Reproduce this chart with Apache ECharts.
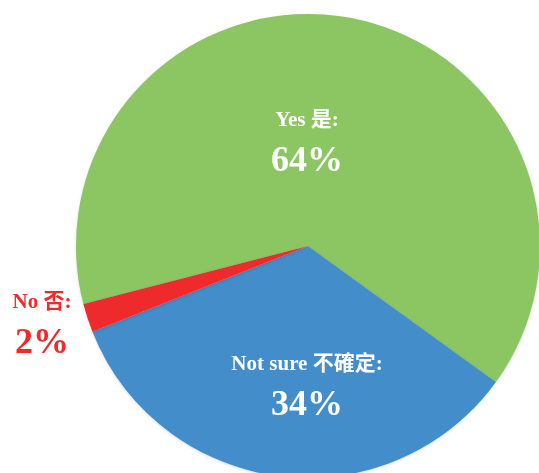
<!DOCTYPE html>
<html>
<head>
<meta charset="utf-8">
<script src="https://cdn.jsdelivr.net/npm/echarts@6/dist/echarts.min.js"></script>
<style>
html,body{margin:0;padding:0;background:#fff;}
#main{width:539px;height:473px;}
</style>
</head>
<body>
<div id="main"></div>
<script>
var names = ['Yes 是', 'Not sure 不確定', 'No 否'];
var values = [64, 34, 2];
var colors = ['#8BC662', '#438DCB', '#EE2A2C'];
var labelColors = ['#fff', '#fff', '#EE2A2C'];

//标签位置
var labelPos = [[307, 142], [307, 386], [42, 324]];

var data = [];
for (var i = 0; i < names.length; i++) {
    data.push({
        name: names[i],
        value: values[i],
        itemStyle: {color: colors[i]},
        label: {color: labelColors[i]}
    });
}

var myChart = echarts.init(document.getElementById('main'));
var option = {
    animation: false,
    series: [{
        type: 'pie',
        center: [308, 246],
        radius: [0, 232],
        startAngle: 194.5,
        clockwise: true,
        data: data,
        itemStyle: {
            shadowBlur: 3,
            shadowOffsetY: 1,
            shadowColor: 'rgba(0,0,0,0.15)'
        },
        emphasis: {disabled: true},
        labelLine: {show: false},
        label: {
            show: true,
            position: 'inside',
            formatter: '{a|{b}:}\n{p|{d}%}',
            fontFamily: '"Liberation Serif", "Noto Sans CJK TC", serif',
            fontWeight: 'bold',
            rich: {
                a: {
                    fontSize: 21,
                    fontWeight: 'bold',
                    fontFamily: '"Liberation Serif", "Noto Sans CJK TC", serif',
                    lineHeight: 40
                },
                p: {
                    fontSize: 36,
                    fontWeight: 'bold',
                    fontFamily: '"Liberation Serif", serif',
                    lineHeight: 42
                }
            }
        },
        labelLayout: function (params) {
            var p = labelPos[params.dataIndex];
            return {x: p[0], y: p[1], align: 'center', verticalAlign: 'middle'};
        }
    }]
};
myChart.setOption(option);
</script>
</body>
</html>
